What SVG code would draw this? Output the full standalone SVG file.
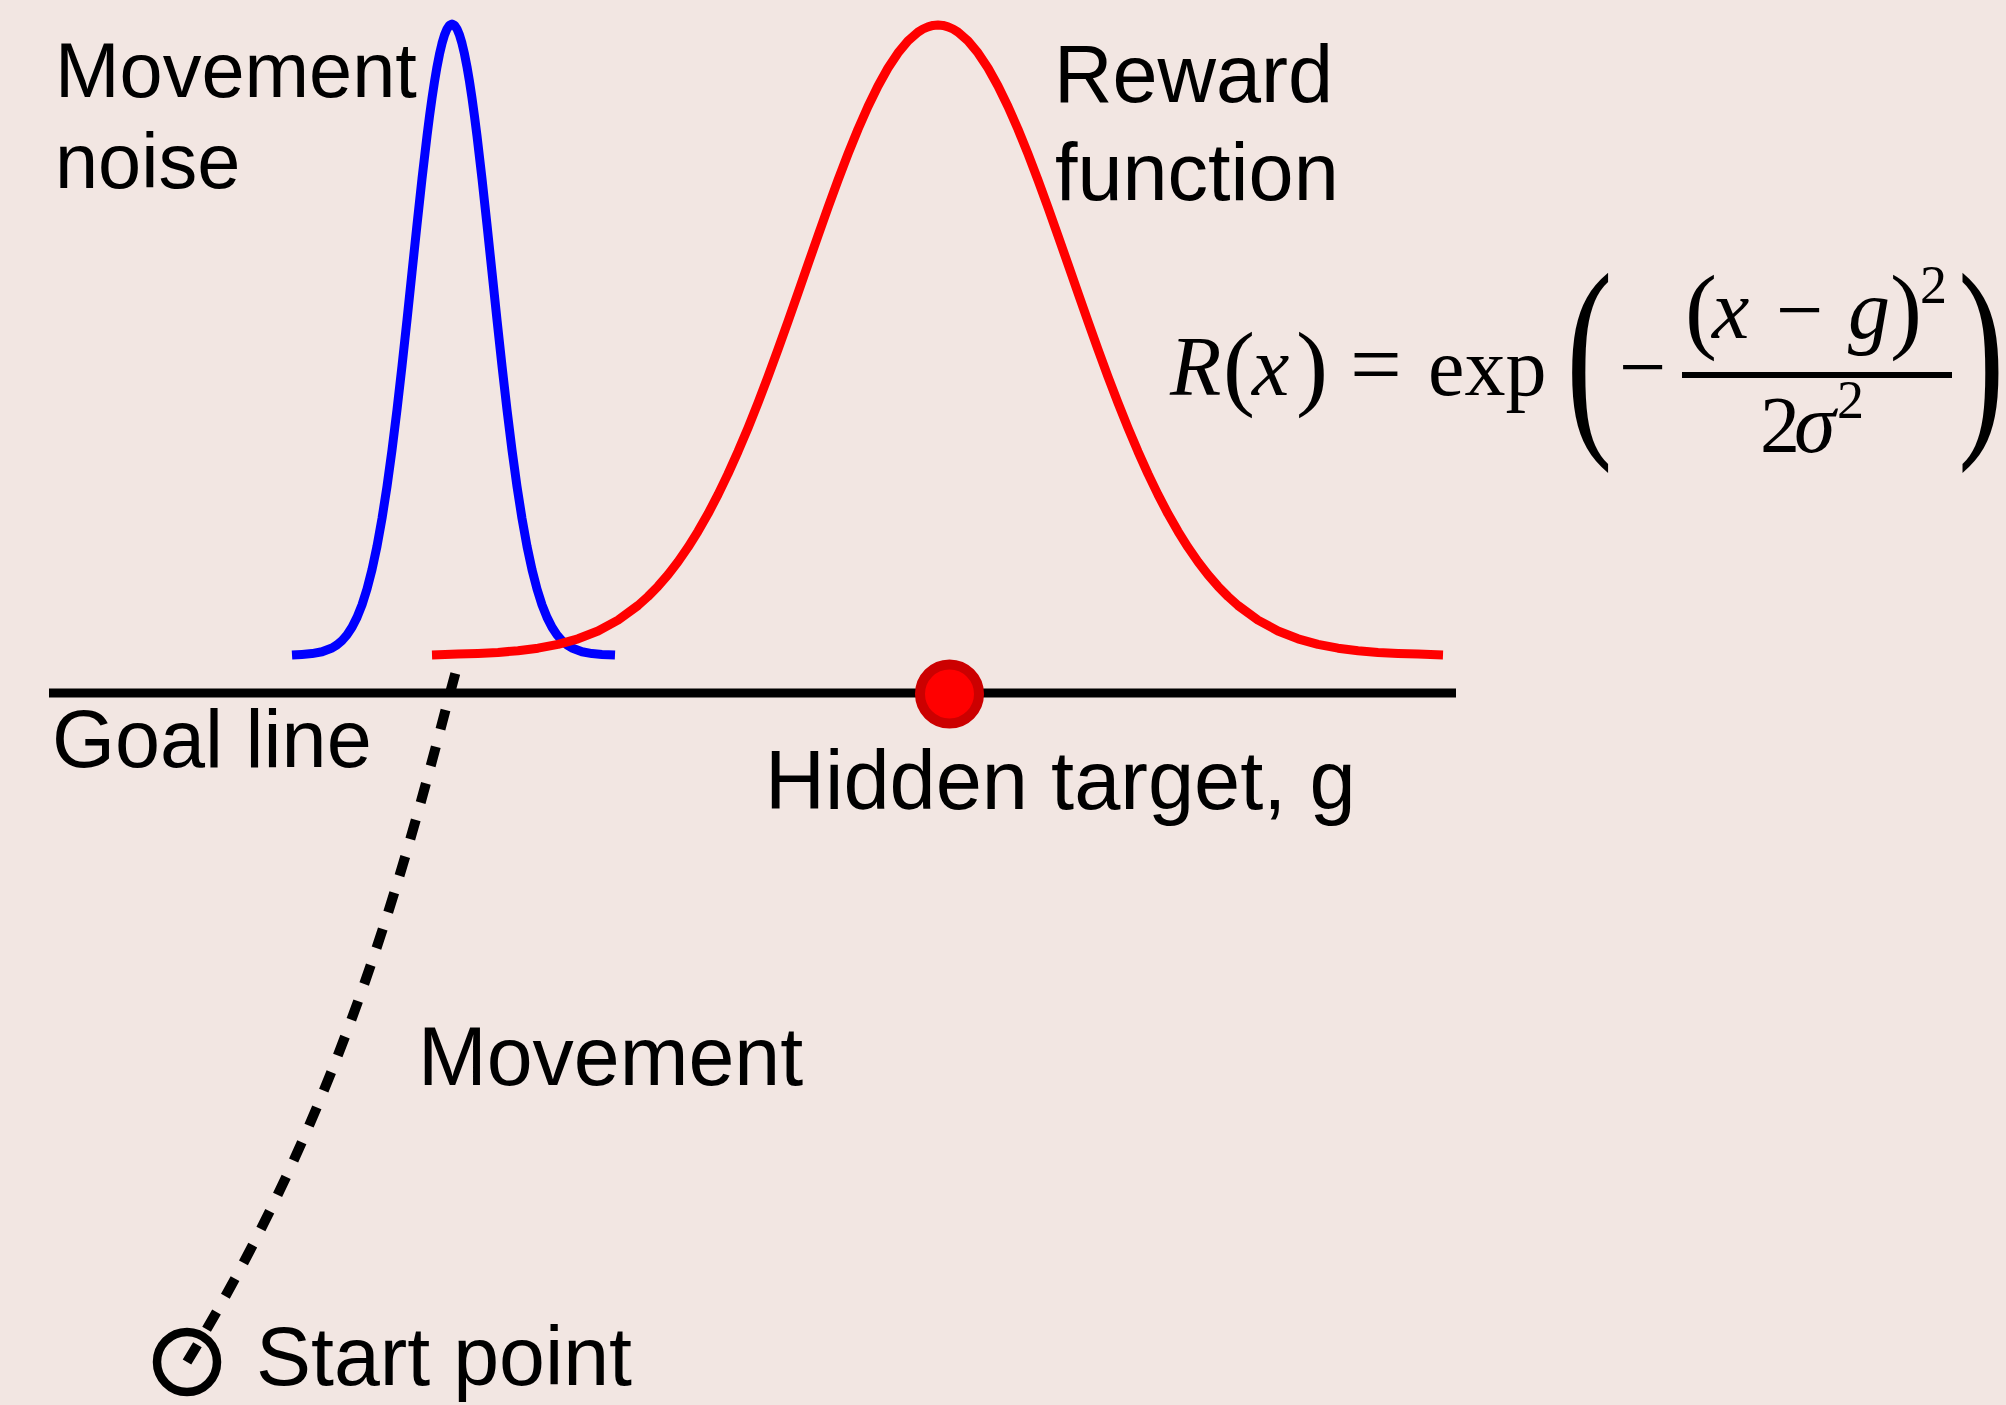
<svg xmlns="http://www.w3.org/2000/svg" width="2006" height="1405" viewBox="0 0 2006 1405">
<style>
.lbl{font-family:"Liberation Sans",Arial,sans-serif;fill:#000}
.m{font-family:"Liberation Serif","Times New Roman",serif;fill:#000}
.it{font-style:italic}
.curve{fill:none;stroke-width:9;stroke-linejoin:round}
</style>
<rect x="0" y="0" width="2006" height="1405" fill="#f2e6e2"/>
<g id="goal-line">
<line x1="49" y1="693" x2="1456" y2="693" stroke="#000" stroke-width="9"/>
<text class="lbl" x="52" y="767" font-size="81">Goal line</text>
</g>
<g id="movement-noise">
<polyline class="curve" stroke="#0000ff" points="292,655 302,654.4 312,653.6 322,651.8 332,648 337,644.9 342,640.6 347,634.9 352,627.3 357,617.4 362,604.8 367,589 372,569.6 377,546.2 382,518.5 387,486.5 392,450.1 397,409.8 402,366.1 407,319.9 412,272.3 417,224.7 422,178.7 427,135.9 429.5,116.3 432,98.1 434.5,81.6 437,66.8 439.5,54.1 442,43.4 444.5,35 447,28.9 449.5,25.2 452,24 454.5,25.2 457,28.9 459.5,35 462,43.4 464.5,54.1 467,66.8 469.5,81.6 472,98.1 474.5,116.3 477,135.9 482,178.7 487,224.7 492,272.3 497,319.9 502,366.1 507,409.8 512,450.1 517,486.5 522,518.5 527,546.2 532,569.6 537,589 542,604.8 547,617.4 552,627.3 557,634.9 562,640.6 567,644.9 572,648 582,651.8 592,653.6 602,654.4 615,655"/>
<text class="lbl" font-size="77.5"><tspan x="55" y="97">Movement</tspan><tspan x="55" y="188">noise</tspan></text>
</g>
<g id="reward-function">
<polyline class="curve" stroke="#ff0000" points="432,655 458,654.1 478,653.4 498,652.4 518,650.7 538,648.2 558,644.4 578,638.8 598,631 618,620.1 638,605.5 648,596.5 658,586.3 668,574.8 678,561.8 688,547.3 698,531.3 708,513.8 718,494.6 728,473.9 738,451.6 748,427.9 758,402.9 768,376.7 778,349.4 788,321.5 798,293 808,264.3 818,235.7 828,207.5 838,180.1 848,153.9 858,129.3 868,106.5 878,86 888,68 898,52.9 908,40.8 918,32.1 923,29 928,26.8 933,25.4 938,25 943,25.4 948,26.8 953,29 958,32.1 968,40.8 978,52.9 988,68 998,86 1008,106.5 1018,129.3 1028,153.9 1038,180.1 1048,207.5 1058,235.7 1068,264.3 1078,293 1088,321.5 1098,349.4 1108,376.7 1118,402.9 1128,427.9 1138,451.6 1148,473.9 1158,494.6 1168,513.8 1178,531.3 1188,547.3 1198,561.8 1208,574.8 1218,586.3 1228,596.5 1238,605.5 1258,620.1 1278,631 1298,638.8 1318,644.4 1338,648.2 1358,650.7 1378,652.4 1398,653.4 1418,654.1 1443,655"/>
<text class="lbl" font-size="81"><tspan x="1054" y="102">Reward</tspan><tspan x="1055" y="200">function</tspan></text>
</g>
<g id="formula">
<text class="m"><tspan class="it" x="1170" y="395" font-size="84">R</tspan><tspan x="1223" y="398" font-size="96">(</tspan><tspan class="it" x="1252" y="395" font-size="84">x</tspan><tspan x="1296" y="398" font-size="96">)</tspan><tspan x="1350" y="395" font-size="92">=</tspan><tspan x="1428" y="395" font-size="82">exp</tspan></text>
<text class="m" transform="translate(1566,426) scale(1,1.58)" font-size="140">(</text>
<text class="m" x="1619" y="395" font-size="84">−</text>
<line x1="1682" y1="375" x2="1952" y2="375" stroke="#000" stroke-width="6"/>
<text class="m"><tspan x="1685" y="341" font-size="96">(</tspan><tspan class="it" x="1712" y="338" font-size="84">x</tspan><tspan x="1776" y="338" font-size="84">−</tspan><tspan class="it" x="1848" y="338" font-size="84">g</tspan><tspan x="1890" y="341" font-size="96">)</tspan><tspan x="1920" y="303" font-size="54">2</tspan></text>
<text class="m"><tspan x="1760" y="452" font-size="80">2</tspan><tspan class="it" x="1794" y="452" font-size="84">σ</tspan><tspan x="1837" y="418" font-size="54">2</tspan></text>
<text class="m" transform="translate(1958,426) scale(1,1.58)" font-size="140">)</text>
</g>
<g id="hidden-target">
<circle cx="949.5" cy="694" r="29.5" fill="#ff0000" stroke="#cc0000" stroke-width="10"/>
<text class="lbl" x="765" y="809" font-size="83">Hidden target, g</text>
</g>
<g id="start-point">
<circle cx="187" cy="1362" r="30" fill="none" stroke="#000" stroke-width="8.5"/>
<text class="lbl" x="256" y="1385" font-size="82.5">Start point</text>
</g>
<g id="movement-label">
<text class="lbl" x="418" y="1085" font-size="82.5">Movement</text>
</g>
<g id="connectors">
<path d="M187,1362 C360,1080 420,800 459,660" fill="none" stroke="#000" stroke-width="10" stroke-dasharray="20 18"/>
</g>
</svg>
